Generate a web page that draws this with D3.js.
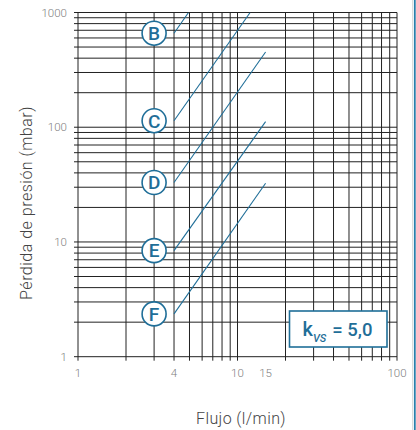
<!DOCTYPE html>
<html>
<head>
<meta charset="utf-8">
<script src="https://cdn.jsdelivr.net/npm/d3@7"></script>
<style>
  body { margin: 0; background: #fff; }
  svg { display: block; }
</style>
</head>
<body>
<svg id="chart" width="416" height="430"></svg>
<script>
// Axis tick labels
const flowTicks = [1, 4, 10, 15, 100];          // l/min
const pressureTicks = [1, 10, 100, 1000];       // mbar

// Curve names and their end points (flow l/min, pressure drop mbar)
const seriesNames = ["B", "C", "D", "E", "F"];
const seriesFlow = [
  [4, 4.93],
  [4, 12.0],
  [4, 15],
  [4, 15],
  [4, 15]
];
const seriesPressure = [
  [660, 1000],
  [114, 1000],
  [33, 453],
  [8.4, 112],
  [2.36, 32.5]
];
// Flow where the curve badges sit
const badgeFlow = 3;
const kvsText = "5,0";

const blue = "#1f6e98";
const gridColor = "#222";

const svg = d3.select("#chart");
const x = d3.scaleLog().domain([1, 100]).range([78, 397]);
const y = d3.scaleLog().domain([1, 1000]).range([356.7, 12.5]);
const [x0, x1] = x.range();
const [y0, y1] = y.range();

// all grid positions: 1..9 in each decade plus the end decade
function logSteps(lo, hi) {
  const out = [];
  for (let d = lo; d < hi; d *= 10) for (let k = 1; k < 10; k++) out.push(k * d);
  out.push(hi);
  return out;
}
const xGrid = logSteps(1, 100);
const yGrid = logSteps(1, 1000);

const grid = svg.append("g");
grid.selectAll("line.v").data(xGrid).join("line")
  .attr("class", "v")
  .attr("x1", d => x(d)).attr("x2", d => x(d))
  .attr("y1", y1).attr("y2", y0 + 4)
  .attr("stroke", gridColor).attr("stroke-width", 1);
grid.selectAll("line.h").data(yGrid).join("line")
  .attr("class", "h")
  .attr("x1", x0 - 4).attr("x2", x1)
  .attr("y1", d => y(d)).attr("y2", d => y(d))
  .attr("stroke", gridColor).attr("stroke-width", 1);

// tick labels
const tickFont = "Roboto, 'DejaVu Sans', sans-serif";
svg.append("g").selectAll("text").data(flowTicks).join("text")
  .attr("x", d => x(d)).attr("y", 377)
  .attr("text-anchor", "middle")
  .attr("font-family", tickFont).attr("font-size", 11.5).attr("font-weight", 300)
  .attr("fill", "#808080")
  .text(d => d);
svg.append("g").selectAll("text").data(pressureTicks).join("text")
  .attr("x", 67).attr("y", d => y(d) + 4)
  .attr("text-anchor", "end")
  .attr("font-family", tickFont).attr("font-size", 11.5).attr("font-weight", 300)
  .attr("fill", "#808080")
  .text(d => d);

// axis titles
svg.append("text")
  .attr("x", 241).attr("y", 424)
  .attr("text-anchor", "middle")
  .attr("font-family", tickFont).attr("font-size", 16).attr("font-weight", 300)
  .attr("fill", "#444")
  .attr("letter-spacing", 0.4)
  .text("Flujo (l/min)");
svg.append("text")
  .attr("transform", "translate(32,203) rotate(-90)")
  .attr("text-anchor", "middle")
  .attr("font-family", tickFont).attr("font-size", 16).attr("font-weight", 300)
  .attr("fill", "#444")
  .attr("letter-spacing", 0.5)
  .text("Pérdida de presión (mbar)");

// curves, clipped to the plot area
svg.append("clipPath").attr("id", "plot-clip")
  .append("rect").attr("x", x0).attr("y", y1)
  .attr("width", x1 - x0).attr("height", y0 - y1);

const series = seriesNames.map((name, i) => ({
  name,
  points: seriesFlow[i].map((f, j) => [f, seriesPressure[i][j]])
}));
const line = d3.line().x(d => x(d[0])).y(d => y(d[1]));

svg.append("g").attr("clip-path", "url(#plot-clip)")
  .selectAll("path").data(series).join("path")
  .attr("d", d => line(d.points))
  .attr("fill", "none")
  .attr("stroke", blue)
  .attr("stroke-width", 1.1);

// circled badges
const badges = svg.append("g").selectAll("g").data(series).join("g")
  .attr("transform", d => `translate(${x(badgeFlow)},${y(d.points[0][1])})`);
badges.append("circle")
  .attr("r", 12)
  .attr("fill", "#fff")
  .attr("stroke", blue)
  .attr("stroke-width", 1.6);
badges.append("text")
  .attr("text-anchor", "middle")
  .attr("y", 6.8)
  .attr("font-family", tickFont).attr("font-weight", 500).attr("font-size", 19)
  .attr("fill", blue)
  .text(d => d.name);

// kvs box
const box = svg.append("g").attr("transform", `translate(${x1 - 107.5},311)`);
box.append("rect")
  .attr("x", 0).attr("y", 0).attr("width", 97.5).attr("height", 36)
  .attr("fill", "#fff").attr("stroke", blue).attr("stroke-width", 1.6);
const kt = box.append("text")
  .attr("x", 13).attr("y", 25)
  .attr("font-family", tickFont).attr("font-weight", 500).attr("font-size", 18.5)
  .attr("fill", blue);
kt.append("tspan").attr("font-size", 20).text("k");
kt.append("tspan").attr("dy", 6).attr("font-size", 11).attr("font-style", "italic")
  .text("VS");
kt.append("tspan").attr("dy", -6).attr("dx", 6).text("= " + kvsText);

// right page edge
svg.append("line").attr("x1", 412.5).attr("x2", 412.5).attr("y1", 0).attr("y2", 430)
  .attr("stroke", "#dcdcdc").attr("stroke-width", 1);
svg.append("line").attr("x1", 414.8).attr("x2", 414.8).attr("y1", 0).attr("y2", 430)
  .attr("stroke", "#2a7fab").attr("stroke-width", 1.8);
</script>
</body>
</html>
